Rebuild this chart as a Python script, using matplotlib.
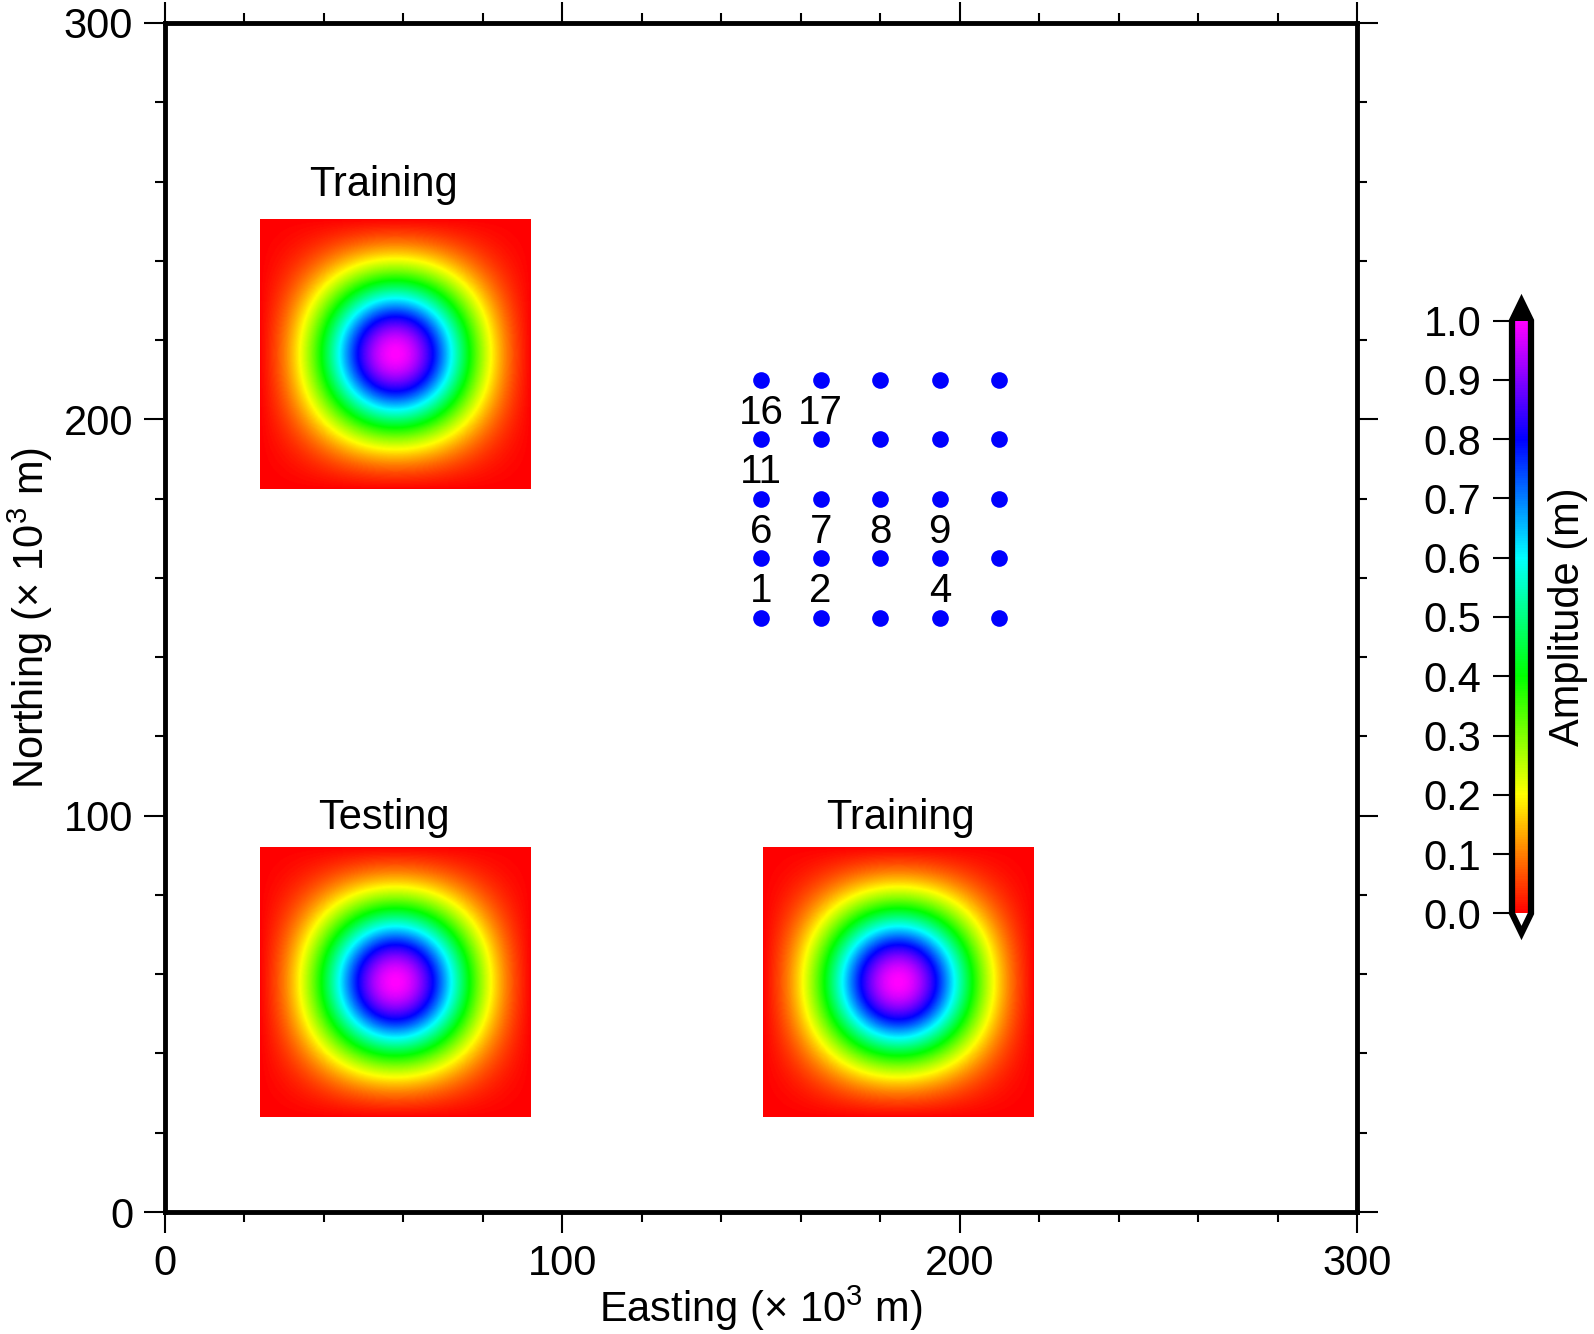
import numpy as np
import matplotlib
matplotlib.use("Agg")
import matplotlib.pyplot as plt
from matplotlib.colors import LinearSegmentedColormap
from matplotlib.ticker import MultipleLocator

plt.rcParams['font.family'] = ['Liberation Sans', 'DejaVu Sans']
plt.rcParams['mathtext.fontset'] = 'custom'
plt.rcParams['mathtext.rm'] = 'Liberation Sans'

# squares of the synthetic amplitude field (x0, y0 of lower-left corner, km)
sq_x0 = [24, 24, 150.5]
sq_y0 = [182.5, 24, 24]
sq_size = 68
sq_label = ["Training", "Testing", "Training"]
label_x = [55, 55, 185]
label_y = [259, 99.5, 99.5]

# station grid
stn_x = [150, 165, 180, 195, 210]
stn_y = [150, 165, 180, 195, 210]
shown_ids = [1, 2, 4, 6, 7, 8, 9, 11, 16, 17]

cmap = LinearSegmentedColormap.from_list(
    "rainbow_r", ["#ff0000", "#ffff00", "#00ff00", "#00ffff", "#0000ff", "#ff00ff"])
cmap.set_over("black")
cmap.set_under("white")

fig = plt.figure(figsize=(15.94, 13.34), dpi=100)
ax = fig.add_axes([165/1594, 122/1334, 1192/1594, 1189/1334])

# gaussian bump, tapered to zero at the square edges
n = 300
u = (np.arange(n) + 0.5) / n
U, V = np.meshgrid(u, u)
R2 = ((U - 0.5)**2 + (V - 0.5)**2) * sq_size**2
sigma = 17.0
field = np.exp(-R2 / (2*sigma**2)) * (np.sin(np.pi*U) * np.sin(np.pi*V))**0.75
for x0, y0 in zip(sq_x0, sq_y0):
    im = ax.imshow(field, cmap=cmap, vmin=0, vmax=1, origin='lower',
                   extent=[x0, x0+sq_size, y0, y0+sq_size], interpolation='bilinear')

for x, y, t in zip(label_x, label_y, sq_label):
    ax.text(x, y, t, fontsize=30, ha='center', va='center')

gx, gy = np.meshgrid(stn_x, stn_y)
ax.plot(gx.ravel(), gy.ravel(), 'o', color='#0000ff', markersize=12, mec='none')
for sid in shown_ids:
    i = sid - 1
    ax.text(stn_x[i % 5], stn_y[i // 5] + 6.6, str(sid), fontsize=29,
            ha='center', va='center')

ax.set_xlim(0, 300)
ax.set_ylim(0, 300)
ax.set_aspect('auto')
ax.xaxis.set_major_locator(MultipleLocator(100))
ax.xaxis.set_minor_locator(MultipleLocator(20))
ax.yaxis.set_major_locator(MultipleLocator(100))
ax.yaxis.set_minor_locator(MultipleLocator(20))
ax.tick_params(which='both', direction='out', top=True, right=True, width=1.5,
               labelsize=30, pad=8)
ax.tick_params(which='major', length=15)
ax.tick_params(which='minor', length=7)
for s in ax.spines.values():
    s.set_linewidth(3.5)
ax.set_xlabel("Easting (× 10$^3$ m)", fontsize=30, labelpad=0)
ax.set_ylabel("Northing (× 10$^3$ m)", fontsize=30, labelpad=6)

cax = fig.add_axes([1512/1594, (1334-933)/1334, 19/1594, 632/1334])
cb = fig.colorbar(im, cax=cax, extend='both', extendfrac=0.033,
                  ticks=np.arange(0, 1.01, 0.1))
cb.outline.set_linewidth(4.5)
cax.yaxis.set_ticks_position('left')
cax.yaxis.set_label_position('right')
cax.tick_params(length=14, width=1.5, labelsize=30, pad=8)
cb.set_ticklabels(["%.1f" % v for v in np.arange(0, 1.01, 0.1)])
cb.set_label("Amplitude (m)", fontsize=30, labelpad=12)

fig.savefig("out.png", dpi=100)
